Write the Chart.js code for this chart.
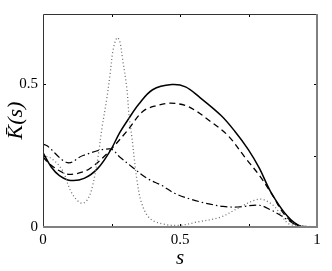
<!DOCTYPE html>
<html>
<head>
<meta charset="utf-8">
<script src="https://cdn.jsdelivr.net/npm/chart.js@4"></script>
<style>
  html, body { margin: 0; padding: 0; background: #fff; }
  #wrap { width: 332px; height: 271px; }
</style>
</head>
<body>
<div id="wrap"><canvas id="kChart" width="332" height="271"></canvas></div>
<script>
// curve samples (s, K(s))
const solidS = [0, 0.03, 0.06, 0.1, 0.15, 0.2, 0.245, 0.28, 0.31, 0.35, 0.4, 0.47, 0.52, 0.57, 0.65, 0.7, 0.75, 0.79, 0.83, 0.89, 0.94, 1];
const solidK = [0.26, 0.21, 0.18, 0.163, 0.17, 0.205, 0.266, 0.33, 0.375, 0.43, 0.48, 0.498, 0.49, 0.455, 0.39, 0.335, 0.27, 0.205, 0.125, 0.04, 0.003, 0];

const dashS = [0, 0.025, 0.08, 0.124, 0.17, 0.233, 0.306, 0.365, 0.416, 0.464, 0.52, 0.56, 0.61, 0.675, 0.74, 0.79, 0.835, 0.88, 0.93, 1];
const dashK = [0.245, 0.22, 0.187, 0.187, 0.204, 0.256, 0.335, 0.405, 0.425, 0.433, 0.425, 0.405, 0.37, 0.32, 0.24, 0.18, 0.115, 0.045, 0.006, 0];

const dashDotS = [0, 0.015, 0.09, 0.146, 0.245, 0.28, 0.325, 0.38, 0.434, 0.48, 0.54, 0.595, 0.657, 0.71, 0.79, 0.835, 0.865, 0.89, 0.93, 1];
const dashDotK = [0.29, 0.284, 0.225, 0.25, 0.273, 0.245, 0.21, 0.17, 0.145, 0.118, 0.097, 0.083, 0.072, 0.07, 0.076, 0.058, 0.042, 0.027, 0.005, 0];

const dotS = [0, 0.03, 0.07, 0.1, 0.125, 0.146, 0.165, 0.18, 0.2, 0.215, 0.233, 0.245, 0.256, 0.27, 0.28, 0.29, 0.306, 0.314, 0.325, 0.333, 0.343, 0.36, 0.39, 0.44, 0.5, 0.56, 0.646, 0.72, 0.77, 0.8, 0.84, 0.865, 0.9, 1];
const dotK = [0.25, 0.24, 0.2, 0.128, 0.093, 0.083, 0.1, 0.14, 0.24, 0.345, 0.45, 0.536, 0.62, 0.662, 0.65, 0.59, 0.485, 0.39, 0.31, 0.24, 0.163, 0.083, 0.03, 0.01, 0.006, 0.017, 0.034, 0.07, 0.093, 0.097, 0.076, 0.048, 0.01, 0];

const xTickLabels = [0, 0.5, 1];
const yTickLabels = [0, 0.5];
const minorTicks = [0.25, 0.5, 0.75];

const serif = '"Liberation Serif", "DejaVu Serif", serif';

function toPoints(xs, ys) {
    return xs.map((x, i) => ({ x, y: ys[i] }));
}

function lineSet(xs, ys, color, dash, width) {
    return {
        data: toPoints(xs, ys),
        borderColor: color,
        borderDash: dash,
        borderWidth: width,
        pointRadius: 0,
        fill: false,
        tension: 0.35
    };
}

// box frame plus inward tick marks on all four sides
const frameTicks = {
    id: 'frameTicks',
    afterDraw(chart) {
        const { ctx, chartArea: a, scales } = chart;
        const xs = scales.x, ys = scales.y;
        ctx.save();
        ctx.lineWidth = 1;
        ctx.strokeStyle = '#000';
        minorTicks.forEach(v => {
            const px = Math.round(xs.getPixelForValue(v)) + 0.5;
            ctx.beginPath();
            ctx.moveTo(px, a.bottom); ctx.lineTo(px, a.bottom - 3);
            ctx.moveTo(px, a.top); ctx.lineTo(px, a.top + 3);
            ctx.stroke();
            if (v < ys.max) {
                const py = Math.round(ys.getPixelForValue(v)) + 0.5;
                ctx.beginPath();
                ctx.moveTo(a.left, py); ctx.lineTo(a.left + 3, py);
                ctx.moveTo(a.right, py); ctx.lineTo(a.right - 3, py);
                ctx.stroke();
            }
        });
        // top and left
        ctx.strokeStyle = '#333';
        ctx.beginPath();
        ctx.moveTo(a.left + 0.5, a.bottom);
        ctx.lineTo(a.left + 0.5, a.top + 0.5);
        ctx.lineTo(a.right, a.top + 0.5);
        ctx.stroke();
        // bottom and right, drawn grey and a bit heavier
        ctx.strokeStyle = '#808080';
        ctx.lineWidth = 2;
        ctx.beginPath();
        ctx.moveTo(a.left, a.bottom);
        ctx.lineTo(a.right, a.bottom);
        ctx.lineTo(a.right, a.top);
        ctx.stroke();
        ctx.restore();
    }
};

new Chart(document.getElementById('kChart').getContext('2d'), {
    type: 'line',
    data: {
        datasets: [
            lineSet(dotS, dotK, '#6e6e6e', [1, 2.5], 1.3),
            lineSet(dashDotS, dashDotK, '#000', [7, 3, 1.5, 3], 1.2),
            lineSet(dashS, dashK, '#000', [6, 4], 1.3),
            lineSet(solidS, solidK, '#000', [], 1.5)
        ]
    },
    options: {
        responsive: false,
        animation: false,
        layout: { padding: { left: 0, right: 15, top: 12, bottom: 0 } },
        plugins: {
            legend: { display: false },
            tooltip: { enabled: false }
        },
        scales: {
            x: {
                type: 'linear',
                min: 0,
                max: 1,
                afterFit: (scale) => { scale.height = 44; },
                grid: { display: false, drawTicks: false },
                border: { display: false },
                ticks: {
                    stepSize: 0.5,
                    padding: 4,
                    color: '#000',
                    font: { family: serif, size: 15 },
                    callback: (v) => xTickLabels.includes(v) ? String(v) : ''
                },
                title: {
                    display: true,
                    text: 's',
                    color: '#000',
                    font: { family: serif, size: 21, style: 'italic' },
                    padding: { top: 4, bottom: 0 }
                }
            },
            y: {
                type: 'linear',
                min: 0,
                max: 0.745,
                afterFit: (scale) => { scale.width = 43; },
                grid: { display: false, drawTicks: false },
                border: { display: false },
                ticks: {
                    stepSize: 0.5,
                    padding: 5,
                    color: '#000',
                    font: { family: serif, size: 15 },
                    callback: (v) => yTickLabels.includes(v) ? String(v) : ''
                },
                title: {
                    display: true,
                    text: 'K\u0304(s)',
                    color: '#000',
                    font: { family: serif, size: 22, style: 'italic' },
                    padding: { top: 3, bottom: 0 }
                }
            }
        }
    },
    plugins: [frameTicks]
});
</script>
</body>
</html>
